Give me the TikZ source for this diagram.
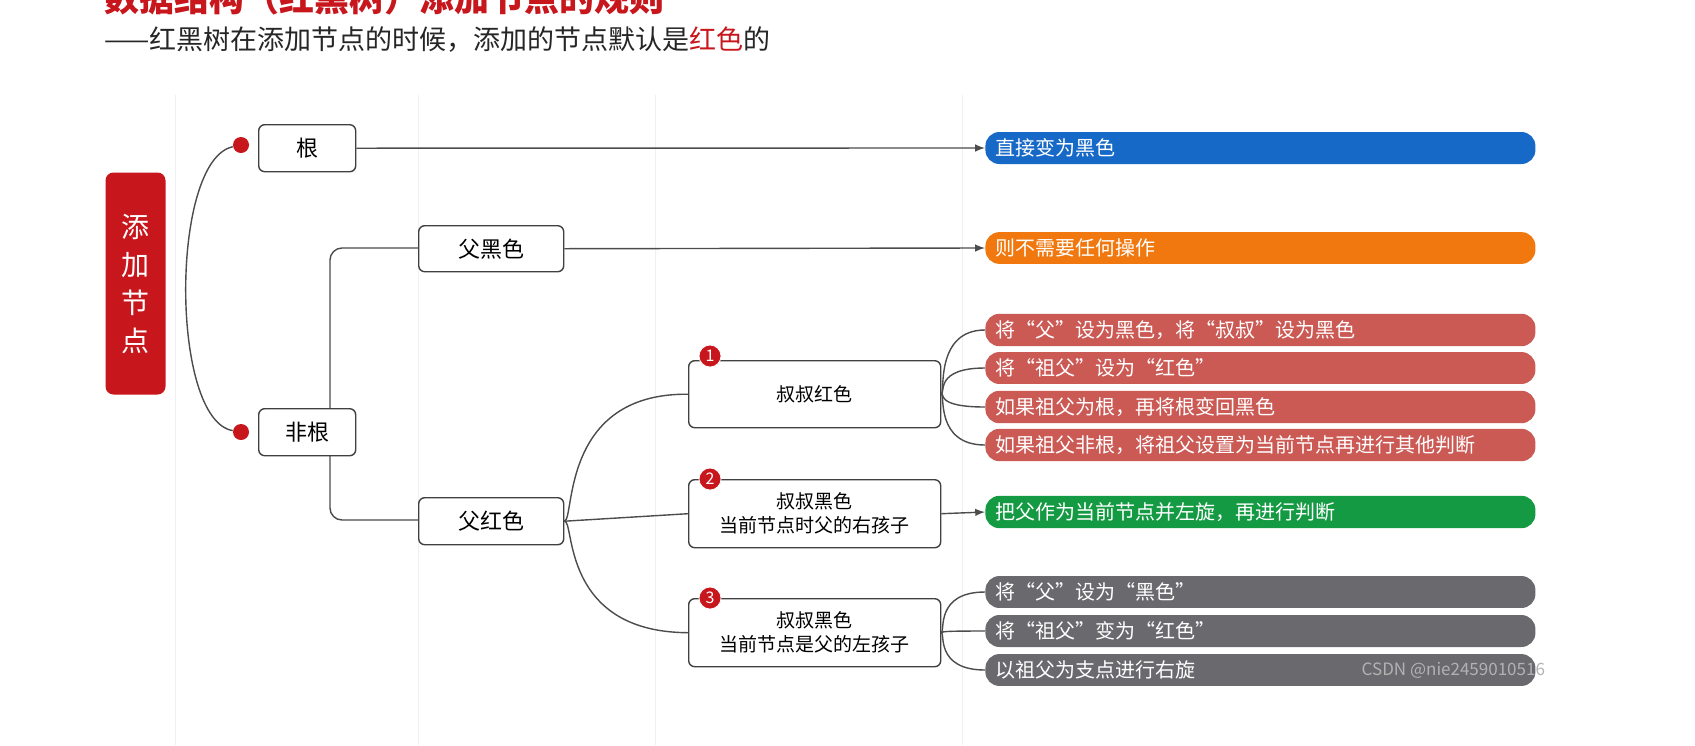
\documentclass[tikz,border=0pt]{standalone}
\usepackage{fontspec}
\setmainfont{Noto Sans CJK SC}
\usetikzlibrary{positioning}
\definecolor{tred}{HTML}{C8161D}
\definecolor{pblue}{HTML}{1769C8}
\definecolor{porange}{HTML}{F0780E}
\definecolor{pred}{HTML}{CB5A55}
\definecolor{pgreen}{HTML}{139A43}
\definecolor{pgray}{HTML}{6A6A6E}
\tikzset{
  box/.style={draw=black!75, line width=.7pt, rounded corners=3pt, fill=white, anchor=north west, inner sep=0pt},
  pill/.style={fill=#1, rounded corners=7pt, minimum width=275pt, minimum height=15.5pt, text=white,
    anchor=west, align=left, text width=265pt, font=\fontsize{10}{11}\selectfont, inner xsep=5pt},
  badge/.style={circle, fill=tred, draw=white, line width=.4pt, text=white, inner sep=0pt, minimum size=11pt,
    font=\fontsize{8}{8}\selectfont},
  line/.style={draw=black!70, line width=.7pt},
  arr/.style={line, -latex}
}
\begin{document}
\begin{tikzpicture}[x=0.5pt,y=-0.5pt]
\useasboundingbox (0,0) rectangle (1695,745);
\fill[white] (0,0) rectangle (1695,745);
% grid
\foreach \x in {175,418,655,962}
  \draw[black!6, line width=.5pt] (\x,95) -- (\x,745);
% title
\node[anchor=west, text=tred, font=\bfseries\fontsize{17.5}{17.5}\selectfont] (title) at (97,-2) {数据结构（红黑树）添加节点的规则};
\node[anchor=west, font=\fontsize{13.5}{13.5}\selectfont, text=black!85] (sub) at (97,40) {——红黑树在添加节点的时候，添加的节点默认是\textcolor{tred}{红色}的};
% root
\node[fill=tred, rounded corners=4pt, minimum width=30pt, minimum height=111pt, text=white, align=center,
  font=\fontsize{14}{19}\selectfont] (add) at (135.5,283.5) {添\\加\\节\\点};
\node[circle, fill=tred, inner sep=0pt, minimum size=8pt] (d1) at (241,145) {};
\node[circle, fill=tred, inner sep=0pt, minimum size=8pt] (d2) at (241,432) {};
\draw[line] (d1) .. controls (170,160) and (170,420) .. (d2);
% level 1
\node[box, minimum width=48.5pt, minimum height=23.5pt, font=\fontsize{11}{11}\selectfont] (gen) at (258,124) {根};
\coordinate (fork) at (330,432);
\draw[line, rounded corners=6pt] (418,248) -| (fork) |- (418,520);
\node[box, minimum width=48.5pt, minimum height=23.5pt, font=\fontsize{11}{11}\selectfont] (feigen) at (258,408) {非根};
% level 2
\node[box, minimum width=72.5pt, minimum height=23pt, font=\fontsize{11}{11}\selectfont] (fuhei) at (418,225) {父黑色};
\node[box, minimum width=72.5pt, minimum height=23.5pt, font=\fontsize{11}{11}\selectfont] (fuhong) at (418,497) {父红色};
% level 3
\node[box, minimum width=126pt, minimum height=33.5pt, align=center, font=\fontsize{9.5}{12}\selectfont] (c1) at (688,360) {叔叔红色};
\node[box, minimum width=126pt, minimum height=34pt, align=center, font=\fontsize{9.5}{12}\selectfont] (c2) at (688,479) {叔叔黑色\\当前节点时父的右孩子};
\node[box, minimum width=126pt, minimum height=34pt, align=center, font=\fontsize{9.5}{12}\selectfont] (c3) at (688,598) {叔叔黑色\\当前节点是父的左孩子};
\node[badge] (b1) at (710,356) {1};
\node[badge] (b2) at (710,479) {2};
\node[badge] (b3) at (710,598) {3};
\draw[line] (fuhong.east) .. controls (575,520) and (560,393) .. (c1.west);
\draw[line] (fuhong.east) -- (c2.west);
\draw[line] (fuhong.east) .. controls (575,520) and (560,632) .. (c3.west);
% results
\node[pill=pblue] (r0) at (985,148) {直接变为黑色};
\node[pill=porange] (r1) at (985,248) {则不需要任何操作};
\node[pill=pred] (r2) at (985,330) {将“父”设为黑色，将“叔叔”设为黑色};
\node[pill=pred] (r3) at (985,368) {将“祖父”设为“红色”};
\node[pill=pred] (r4) at (985,407) {如果祖父为根，再将根变回黑色};
\node[pill=pred] (r5) at (985,445) {如果祖父非根，将祖父设置为当前节点再进行其他判断};
\node[pill=pgreen] (r6) at (985,512) {把父作为当前节点并左旋，再进行判断};
\node[pill=pgray] (r7) at (985,592) {将“父”设为“黑色”};
\node[pill=pgray] (r8) at (985,631) {将“祖父”变为“红色”};
\node[pill=pgray] (r9) at (985,670) {以祖父为支点进行右旋};
\draw[arr] (gen.east) -- (r0.west);
\draw[arr] (fuhei.east) -- (r1.west);
\draw[arr] (c2.east) -- (r6.west);
\foreach \r in {r2,r3,r4,r5}
  \draw[line] (c1.east) .. controls (945,393) and (935,0|-\r.west) .. (\r.west);
\foreach \r in {r7,r8,r9}
  \draw[line] (c3.east) .. controls (945,632) and (935,0|-\r.west) .. (\r.west);
\node[anchor=east, text=black!30, font=\fontsize{8.5}{9}\selectfont] (mark) at (1552,670) {CSDN @nie2459010516};
\end{tikzpicture}
\end{document}
